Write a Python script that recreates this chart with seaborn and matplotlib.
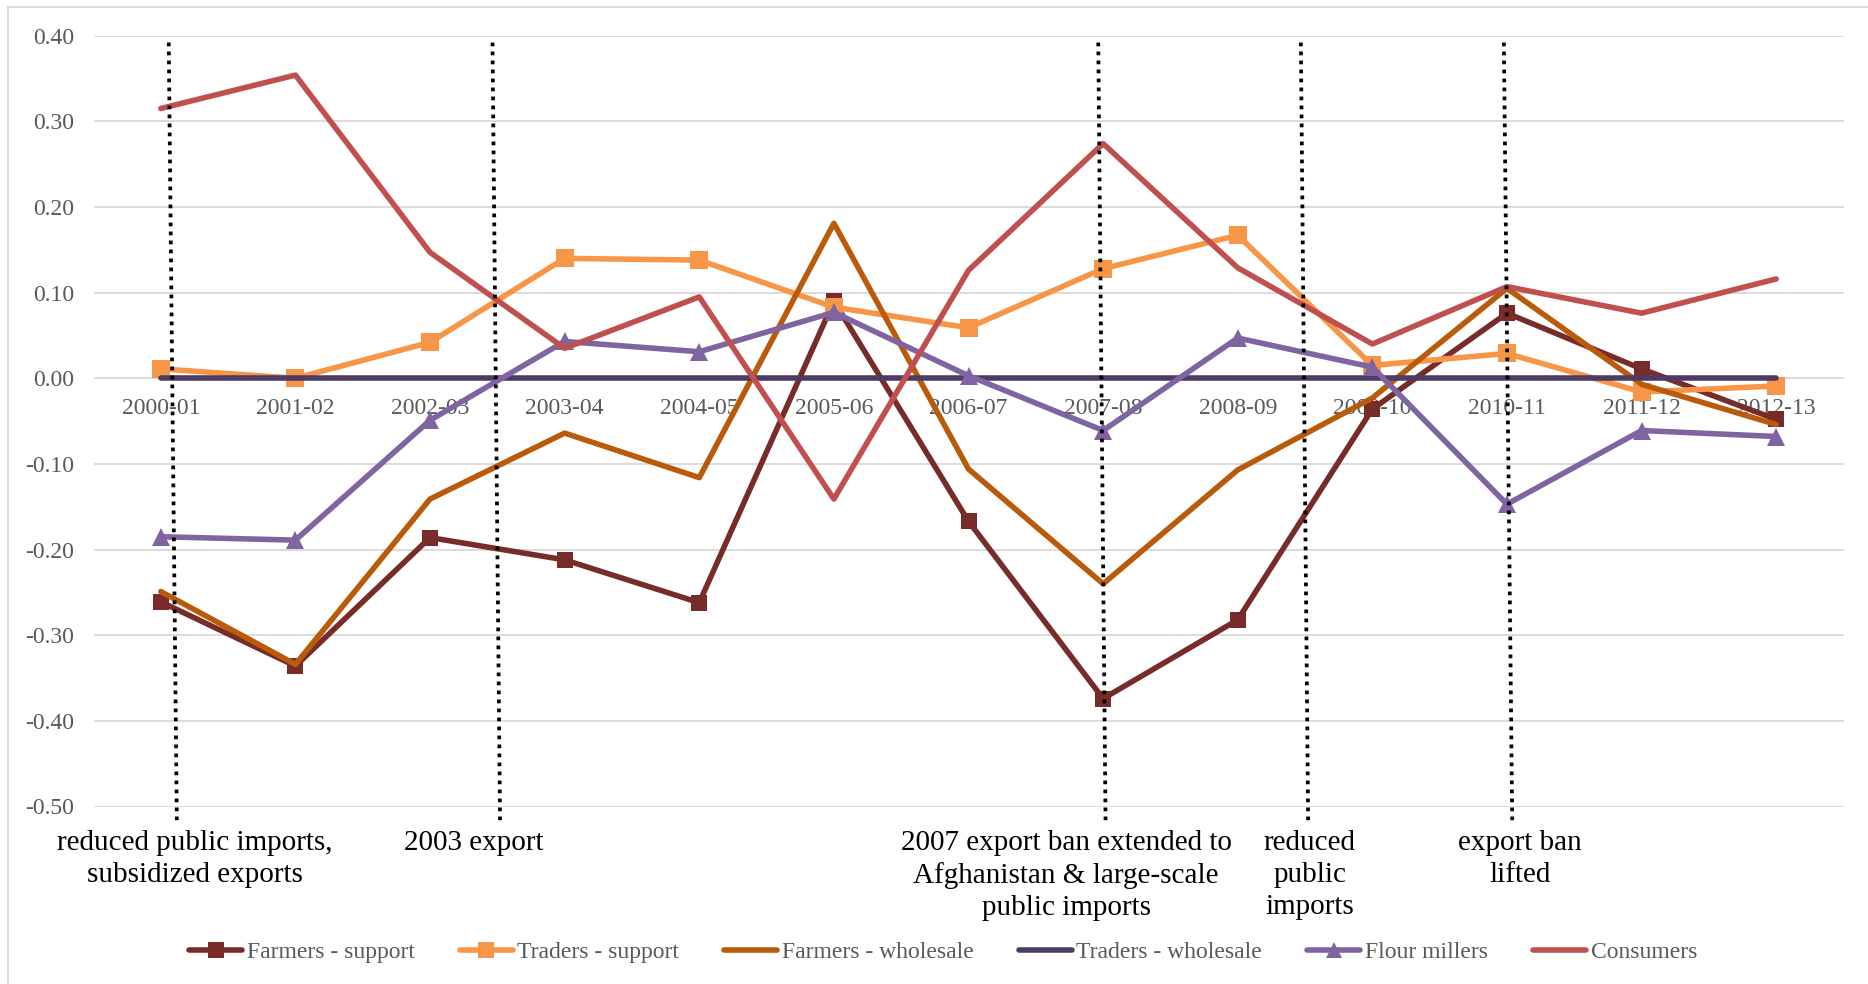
import numpy as np
import pandas as pd
import matplotlib
matplotlib.use("Agg")
import matplotlib.pyplot as plt
import matplotlib.transforms as mtransforms
from matplotlib.lines import Line2D
from matplotlib.patches import Rectangle
import seaborn as sns

# ---- data -------------------------------------------------------------
seasons = ["2000-01", "2001-02", "2002-03", "2003-04", "2004-05", "2005-06",
           "2006-07", "2007-08", "2008-09", "2009-10", "2010-11", "2011-12",
           "2012-13"]

farmers_support = [-0.261, -0.336, -0.186, -0.212, -0.262, 0.090, -0.167,
                   -0.374, -0.282, -0.036, 0.076, 0.011, -0.048]
traders_support = [0.011, 0.000, 0.042, 0.140, 0.138, 0.083, 0.059,
                   0.128, 0.167, 0.015, 0.029, -0.016, -0.009]
farmers_wholesale = [-0.249, -0.334, -0.141, -0.064, -0.116, 0.181, -0.106,
                     -0.240, -0.107, -0.023, 0.105, -0.007, -0.054]
traders_wholesale = [0.0] * 13
flour_millers = [-0.185, -0.189, -0.049, 0.043, 0.031, 0.077, 0.003,
                 -0.061, 0.047, 0.013, -0.147, -0.061, -0.068]
consumers = [0.315, 0.354, 0.147, 0.035, 0.095, -0.141, 0.126,
             0.274, 0.129, 0.040, 0.107, 0.076, 0.116]

series_names = ["Farmers - support", "Traders - support", "Farmers - wholesale",
                "Traders - wholesale", "Flour millers", "Consumers"]
series_values = [farmers_support, traders_support, farmers_wholesale,
                 traders_wholesale, flour_millers, consumers]

y_ticks = [-0.5, -0.4, -0.3, -0.2, -0.1, 0.0, 0.1, 0.2, 0.3, 0.4]

event_labels = [
    "reduced public imports,\nsubsidized exports",
    "2003 export",
    "2007 export ban extended to\nAfghanistan & large-scale\npublic imports",
    "reduced\npublic\nimports",
    "export ban\nlifted",
]

# ---- styling ----------------------------------------------------------
colors = ["#772C2A", "#F79646", "#BA5A0B", "#4D3B63", "#8064A2", "#C0504D"]
markers = ["s", "s", None, None, "^", None]
msizes = [12, 13, 0, 0, 13.5, 0]
LW = 4.0

# event marker lines: (x top, x bottom) in category units, and label centre x
event_lines = [(0.059, 0.119), (2.464, 2.52), (6.964, 7.018),
               (8.469, 8.523), (9.977, 10.039)]
event_text_x = [0.254, 2.327, 6.726, 8.535, 10.094]

rows = []
for name, vals in zip(series_names, series_values):
    for i, v in enumerate(vals):
        rows.append({"series": name, "pos": i, "season": seasons[i], "value": v})
df = pd.DataFrame(rows)

sns.set_theme(style="white")
plt.rcParams["font.family"] = ["Liberation Serif", "DejaVu Serif"]
plt.rcParams["axes.unicode_minus"] = False

W, H = 1868, 984
fig = plt.figure(figsize=(W / 100, H / 100), dpi=100)
ax = fig.add_axes([93.5 / W, 1 - 806.5 / H, 1750 / W, 770.8 / H])

for k, name in enumerate(series_names):
    sub = df[df["series"] == name]
    kw = {}
    if markers[k]:
        kw = dict(marker=markers[k], markersize=msizes[k], markeredgewidth=0)
    sns.lineplot(data=sub, x="pos", y="value", color=colors[k], linewidth=LW,
                 solid_capstyle="round", solid_joinstyle="round",
                 ax=ax, legend=False, zorder=3 + k, sort=False, **kw)

ax.set_xlim(-0.5, len(seasons) - 0.5)
ax.set_ylim(-0.5, 0.4)
ax.set_yticks(y_ticks)
ax.set_yticklabels([f"{abs(t):.2f}" if t == 0 else f"{t:.2f}" for t in y_ticks])
ax.set_xticks(range(len(seasons)))
ax.set_xticklabels(seasons)
ax.set_xlabel("")
ax.set_ylabel("")
ax.grid(axis="y", color="#D9D9D9", linewidth=1.3)
ax.grid(axis="x", visible=False)
ax.set_axisbelow(True)
for s in ["top", "right", "left"]:
    ax.spines[s].set_visible(False)
ax.spines["bottom"].set_position(("data", 0))
ax.spines["bottom"].set_color("none")
ax.tick_params(axis="x", length=0, pad=14, labelsize=17, labelcolor="#595959")
ax.tick_params(axis="y", length=0, pad=14, labelsize=17, labelcolor="#595959")

# dotted event markers
for (x0, x1) in event_lines:
    ax.plot([x0, x1], [0.392, -0.516], color="black", linewidth=2.7,
            linestyle=(0, (1.0, 1.4)), clip_on=False, zorder=20)

# event descriptions below the plot
blend = mtransforms.blended_transform_factory(ax.transData, fig.transFigure)
for xt, txt in zip(event_text_x, event_labels):
    ax.text(xt, 1 - 830 / H, txt, transform=blend, ha="center", va="top",
            fontsize=21, color="black", linespacing=1.3, multialignment="center")

# legend
handles = []
for k, name in enumerate(series_names):
    handles.append(Line2D([], [], color=colors[k], linewidth=LW,
                          solid_capstyle="round",
                          marker=markers[k] if markers[k] else None,
                          markersize=12, markeredgewidth=0))
fig.legend(handles, series_names, loc="center", bbox_to_anchor=(943 / W, 1 - 952 / H),
           ncol=6, frameon=False, fontsize=17, handlelength=2.25,
           handletextpad=0.2, columnspacing=1.9, labelcolor="#595959")

# chart area border
fig.patches.append(Rectangle((8 / W, -0.02), 1.0, 1 - 7 / H + 0.02,
                             transform=fig.transFigure, fill=False,
                             edgecolor="#D9D9D9", linewidth=1.3))

fig.savefig("out.png", dpi=100)
